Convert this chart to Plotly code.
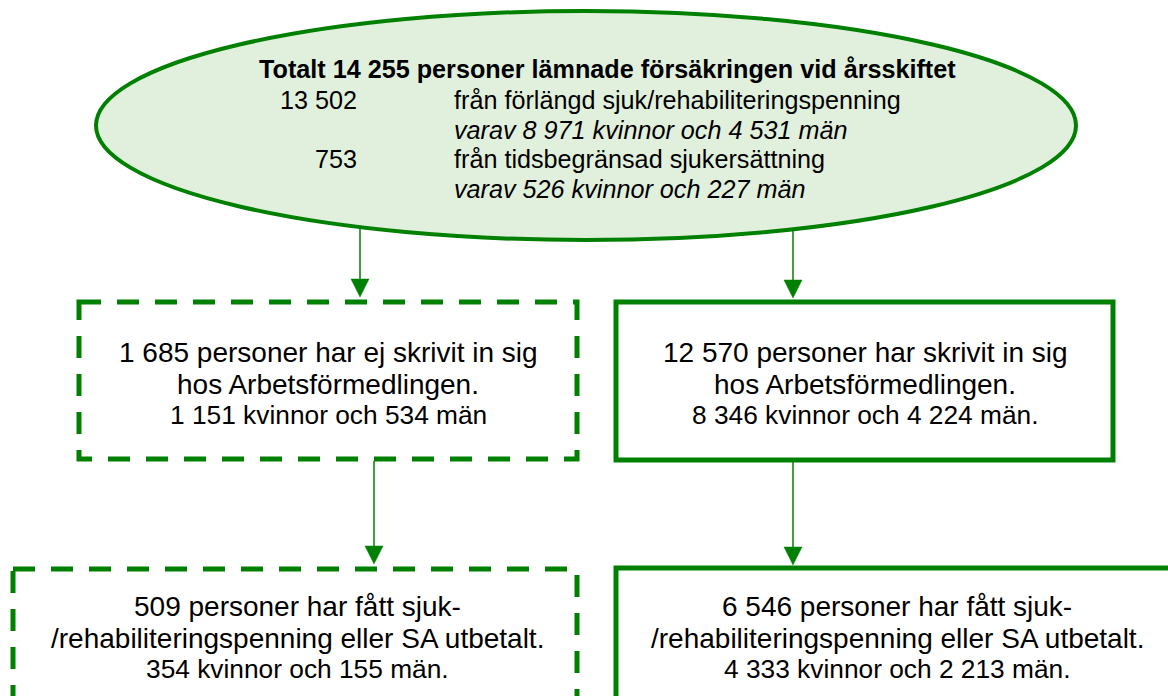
import plotly.graph_objects as go

# ---------------- data ----------------
total_left = 14255
source_labels = ["från förlängd sjuk/rehabiliteringspenning",
                 "från tidsbegränsad sjukersättning"]
source_totals = [13502, 753]
source_women = [8971, 526]
source_men = [4531, 227]

group_totals = [1685, 12570]      # ej inskrivna, inskrivna hos AF
group_women = [1151, 8346]
group_men = [534, 4224]
group_line1 = ["{} personer har ej skrivit in sig", "{} personer har skrivit in sig"]
group_line3 = ["{} kvinnor och {} män", "{} kvinnor och {} män."]

paid_totals = [509, 6546]
paid_women = [354, 4333]
paid_men = [155, 2213]


def fmt(n):
    return f"{n:,}".replace(",", " ")


GREEN = "#008000"
FILL = "#e1f0dd"
FONT = "Arial, 'Liberation Sans', sans-serif"

fig = go.Figure()
shapes = []
ann = []

# ---------- connectors (drawn first, under the ellipse) ----------
def arrow(x, y_start, y_tip):
    shapes.append(dict(type="line", x0=x, x1=x, y0=y_start, y1=y_tip - 17,
                       line=dict(color=GREEN, width=1.5), layer="above"))
    shapes.append(dict(type="path",
                       path=f"M {x-9},{y_tip-18} L {x+9},{y_tip-18} L {x},{y_tip} Z",
                       fillcolor=GREEN, line=dict(color=GREEN, width=0.5), layer="above"))

arrow(360, 225, 297)
arrow(793, 225, 298)
arrow(374, 461, 564)
arrow(793, 462, 565)

# ---------- ellipse ----------
shapes.append(dict(type="circle", x0=96, x1=1076, y0=11, y1=240,
                   fillcolor=FILL, line=dict(color=GREEN, width=4), layer="above"))

# ---------- boxes ----------
DASH = "22px,16px"
shapes.append(dict(type="rect", x0=79, x1=577, y0=302, y1=459,
                   line=dict(color=GREEN, width=5, dash=DASH), fillcolor="rgba(0,0,0,0)"))
shapes.append(dict(type="rect", x0=616, x1=1113, y0=302, y1=460,
                   line=dict(color=GREEN, width=5), fillcolor="rgba(0,0,0,0)"))
shapes.append(dict(type="rect", x0=13, x1=577, y0=569, y1=720,
                   line=dict(color=GREEN, width=5, dash=DASH), fillcolor="rgba(0,0,0,0)"))
shapes.append(dict(type="rect", x0=616, x1=1190, y0=568, y1=720,
                   line=dict(color=GREEN, width=5), fillcolor="rgba(0,0,0,0)"))

# ---------- ellipse text ----------
def txt(x, y, text, size, anchor="center"):
    ann.append(dict(x=x, y=y, xref="x", yref="y", text=text, showarrow=False,
                    xanchor=anchor, yanchor="middle",
                    font=dict(family=FONT, size=size, color="#000000")))

ES = 25.2
txt(607, 69, f"<b>Totalt {fmt(total_left)} personer lämnade försäkringen vid årsskiftet</b>", ES)
ys = [100, 159]
for i in range(2):
    y = ys[i]
    txt(359, y, fmt(source_totals[i]), ES, "right")
    txt(452, y, source_labels[i], ES, "left")
    txt(452, y + 29.5, f"<i>varav {fmt(source_women[i])} kvinnor och {fmt(source_men[i])} män</i>", ES, "left")

# ---------- box text ----------
BS = 28
BS3 = 26.3
centers_top = [328, 865]
for i in range(2):
    cx = centers_top[i]
    txt(cx, 352, group_line1[i].format(fmt(group_totals[i])), BS)
    txt(cx, 384, "hos Arbetsförmedlingen.", BS)
    txt(cx, 415, group_line3[i].format(fmt(group_women[i]), fmt(group_men[i])), BS3)

centers_bot = [297, 897]
for i in range(2):
    cx = centers_bot[i]
    txt(cx, 606, f"{fmt(paid_totals[i])} personer har fått sjuk-", BS)
    txt(cx, 638, "/rehabiliteringspenning eller SA utbetalt.", BS)
    txt(cx, 669, f"{fmt(paid_women[i])} kvinnor och {fmt(paid_men[i])} män.", BS3)

fig.update_layout(
    width=1168, height=696,
    margin=dict(l=0, r=0, t=0, b=0),
    paper_bgcolor="white", plot_bgcolor="white",
    xaxis=dict(range=[0, 1168], visible=False, fixedrange=True),
    yaxis=dict(range=[696, 0], visible=False, fixedrange=True),
    shapes=shapes, annotations=ann, showlegend=False,
)
fig.write_html("out.html",
               config={"displayModeBar": False},
               post_script="document.body.style.margin='0';document.body.style.overflow='hidden';")
